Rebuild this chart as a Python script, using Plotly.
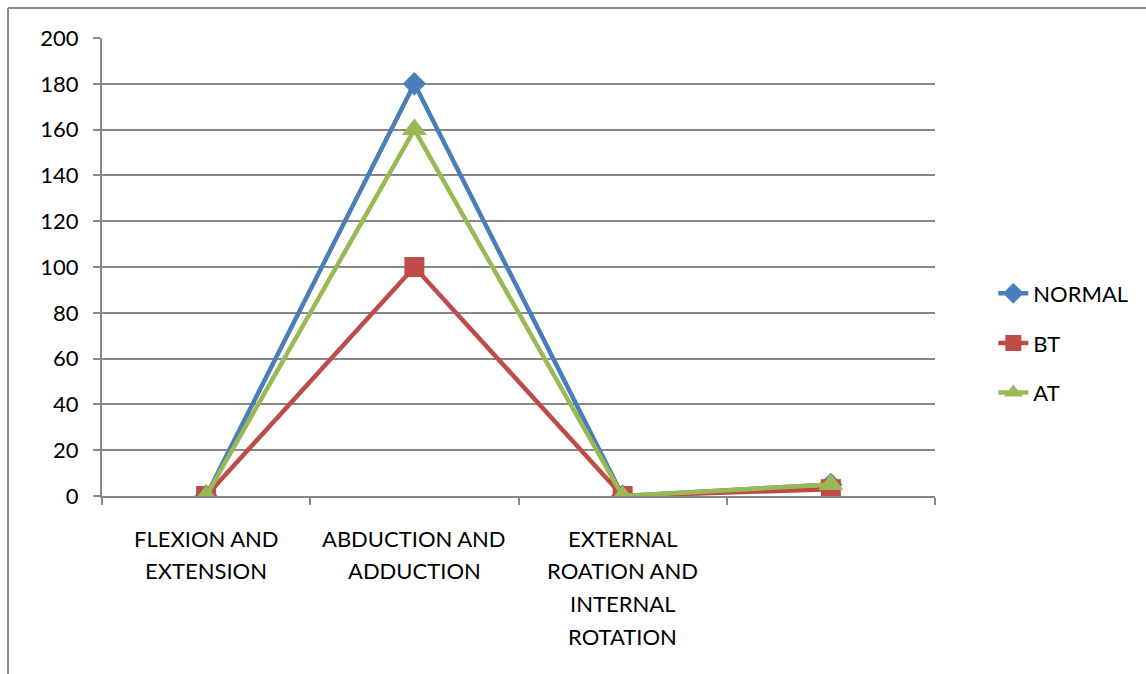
import plotly.graph_objects as go

# Range-of-motion measurements per movement
categories = [
    "FLEXION AND<br>EXTENSION",
    "ABDUCTION AND<br>ADDUCTION",
    "EXTERNAL<br>ROATION AND<br>INTERNAL<br>ROTATION",
    "",
]
normal = [0, 180, 0, 5]
bt = [0, 100, 0, 3]
at = [0, 160, 0, 5]
y_ticks = list(range(0, 201, 20))

FONT = "Lato"
FSIZE = 22
GRID = "#888888"

x_idx = list(range(len(categories)))

fig = go.Figure()
series = [
    ("NORMAL", normal, "#4a7ebb", "diamond", 18),
    ("BT", bt, "#be4b48", "square", 20),
    ("AT", at, "#98b954", "triangle-up", 22),
]
for i, (name, vals, color, symbol, size) in enumerate(series):
    fig.add_trace(go.Scatter(
        x=x_idx, y=vals, name=name, mode="lines+markers",
        line=dict(color=color, width=4.5),
        marker=dict(symbol=symbol, size=size, color=color),
        legendgroup=f"g{i}",
    ))

# Multi-line category labels under the axis
line_gap = 32.7
for i, label in enumerate(categories):
    if not label:
        continue
    for j, part in enumerate(label.split("<br>")):
        fig.add_annotation(
            x=i, y=0, xref="x", yref="y", text=part, showarrow=False,
            yanchor="middle", xanchor="center",
            yshift=-(42 + j * line_gap),
            font=dict(family=FONT, size=FSIZE, color="#000000"),
        )

# Outer frame (left and top edges visible)
fig.add_shape(type="line", xref="paper", yref="paper",
              x0=-0.1128, x1=-0.1128, y0=1.0655, y1=-0.45,
              line=dict(color=GRID, width=2))
fig.add_shape(type="line", xref="paper", yref="paper",
              x0=-0.1128, x1=1.3, y0=1.0655, y1=1.0655,
              line=dict(color=GRID, width=2))

fig.update_layout(
    width=1146, height=674,
    margin=dict(l=102, r=211, t=38, b=178),
    paper_bgcolor="white", plot_bgcolor="white",
    font=dict(family=FONT, size=FSIZE, color="#000000"),
    showlegend=True,
    legend=dict(
        x=1.07, y=0.334, xanchor="left", yanchor="middle",
        font=dict(family=FONT, size=FSIZE, color="#000000"),
        tracegroupgap=18, bgcolor="rgba(0,0,0,0)",
    ),
    xaxis=dict(
        range=[-0.5, len(categories) - 0.5],
        tickvals=[k - 0.5 for k in range(len(categories) + 1)],
        showticklabels=False, showgrid=False, zeroline=False,
        showline=True, linecolor=GRID, linewidth=2,
        ticks="outside", ticklen=7, tickcolor=GRID, tickwidth=2,
    ),
    yaxis=dict(
        range=[0, 200], tickvals=y_ticks,
        showgrid=True, gridcolor=GRID, gridwidth=1.5, zeroline=False,
        showline=True, linecolor=GRID, linewidth=2,
        ticks="outside", ticklen=7, tickcolor=GRID, tickwidth=2,
        ticklabelstandoff=10,
        tickfont=dict(family=FONT, size=FSIZE, color="#000000"),
    ),
)

fig.write_html("out.html")
